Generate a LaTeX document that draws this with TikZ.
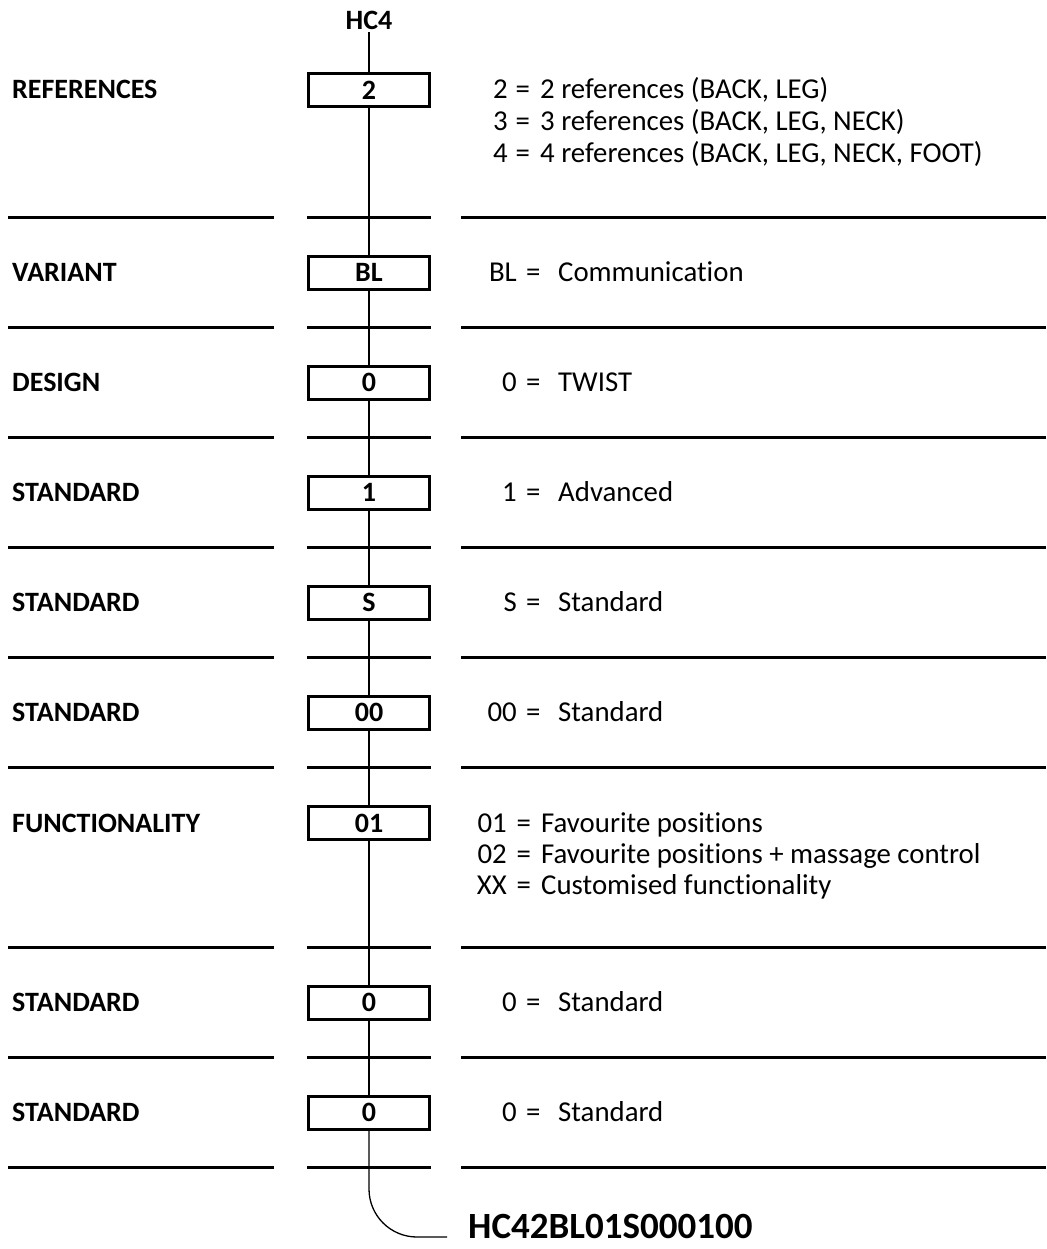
\documentclass[tikz,border=0pt]{standalone}
\usepackage{fontspec}
\setmainfont{Carlito}[Ligatures={NoCommon}]
\newcommand\dline[7]{%
  \node[desc, anchor=base east] (#1c) at (#3,#2) {#6};
  \node[desc] (#1e) at (#4,#2) {=};
  \node[desc] (#1t) at (#5,#2) {#7};}
\begin{document}
\begin{tikzpicture}[x=1pt,y=-1pt,
  lbl/.style={anchor=base west, inner sep=0pt, font=\bfseries\fontsize{28}{33}\selectfont},
  codebox/.style={draw, fill=white, line width=3pt, minimum width=121pt, minimum height=33pt, inner sep=0pt, font=\bfseries\fontsize{28}{33}\selectfont},
  desc/.style={anchor=base west, inner sep=0pt, font=\fontsize{28.8}{33}\selectfont},
  divider/.style={line width=3pt},
  spine/.style={line width=1.3pt}]
\useasboundingbox (0,0) rectangle (1046,1249);

% dividers
\foreach \yy in {217.5,327.5,437.5,547.5,657.5,767.5,947.5,1057.5,1167.5}{
  \draw[divider] (8,\yy) -- (274,\yy);
  \draw[divider] (307,\yy) -- (431,\yy);
  \draw[divider] (461,\yy) -- (1046,\yy);
}

% top label
\node[inner sep=3pt, font=\bfseries\fontsize{28}{33}\selectfont] (hc4) at (369,20) {HC4};

% code boxes
\node[codebox] (b1) at (369,90) {2};
\node[codebox] (b2) at (369,272.5) {BL};
\node[codebox] (b3) at (369,382.5) {0};
\node[codebox] (b4) at (369,492.5) {1};
\node[codebox] (b5) at (369,602.5) {S};
\node[codebox] (b6) at (369,712.5) {00};
\node[codebox] (b7) at (369,823) {01};
\node[codebox] (b8) at (369,1002.5) {0};
\node[codebox] (b9) at (369,1112.5) {0};

% spine
\draw[spine] (hc4) -- (b1);
\draw[spine] (b1) -- (b2);
\draw[spine] (b2) -- (b3);
\draw[spine] (b3) -- (b4);
\draw[spine] (b4) -- (b5);
\draw[spine] (b5) -- (b6);
\draw[spine] (b6) -- (b7);
\draw[spine] (b7) -- (b8);
\draw[spine] (b8) -- (b9);
\coordinate (endc) at (447,1237);
\draw[spine, rounded corners=48pt] (b9.south) |- (endc);
\node[anchor=base west, inner sep=0pt, font=\bfseries\fontsize{37}{44}\selectfont] (result) at (468,1238) {HC42BL01S000100};

% row labels
\node[lbl] (l1) at (12,99) {REFERENCES};
\node[lbl] (l2) at (12,281.5) {VARIANT};
\node[lbl] (l3) at (12,391.5) {DESIGN};
\node[lbl] (l4) at (12,501.5) {STANDARD};
\node[lbl] (l5) at (12,611.5) {STANDARD};
\node[lbl] (l6) at (12,721.5) {STANDARD};
\node[lbl] (l7) at (12,832) {FUNCTIONALITY};
\node[lbl] (l8) at (12,1011.5) {STANDARD};
\node[lbl] (l9) at (12,1121.5) {STANDARD};

% descriptions
\dline{da}{99}{508}{515.5}{540}{2}{2 references (BACK, LEG)}
\dline{db}{131}{508}{515.5}{540}{3}{3 references (BACK, LEG, NECK)}
\dline{dc}{163}{508}{515.5}{540}{4}{4 references (BACK, LEG, NECK, FOOT)}
\dline{dd}{281.5}{517}{526}{558}{BL}{Communication}
\dline{de}{391.5}{517}{526}{558}{0}{TWIST}
\dline{df}{501.5}{517}{526}{558}{1}{Advanced}
\dline{dg}{611.5}{517}{526}{558}{S}{Standard}
\dline{dh}{721.5}{517}{526}{558}{00}{Standard}
\dline{di}{832}{507}{516.5}{541}{01}{Favourite positions}
\dline{dj}{863}{507}{516.5}{541}{02}{Favourite positions + massage control}
\dline{dk}{894}{507}{516.5}{541}{XX}{Customised functionality}
\dline{dl}{1011.5}{517}{526}{558}{0}{Standard}
\dline{dm}{1121.5}{517}{526}{558}{0}{Standard}
\end{tikzpicture}
\end{document}
